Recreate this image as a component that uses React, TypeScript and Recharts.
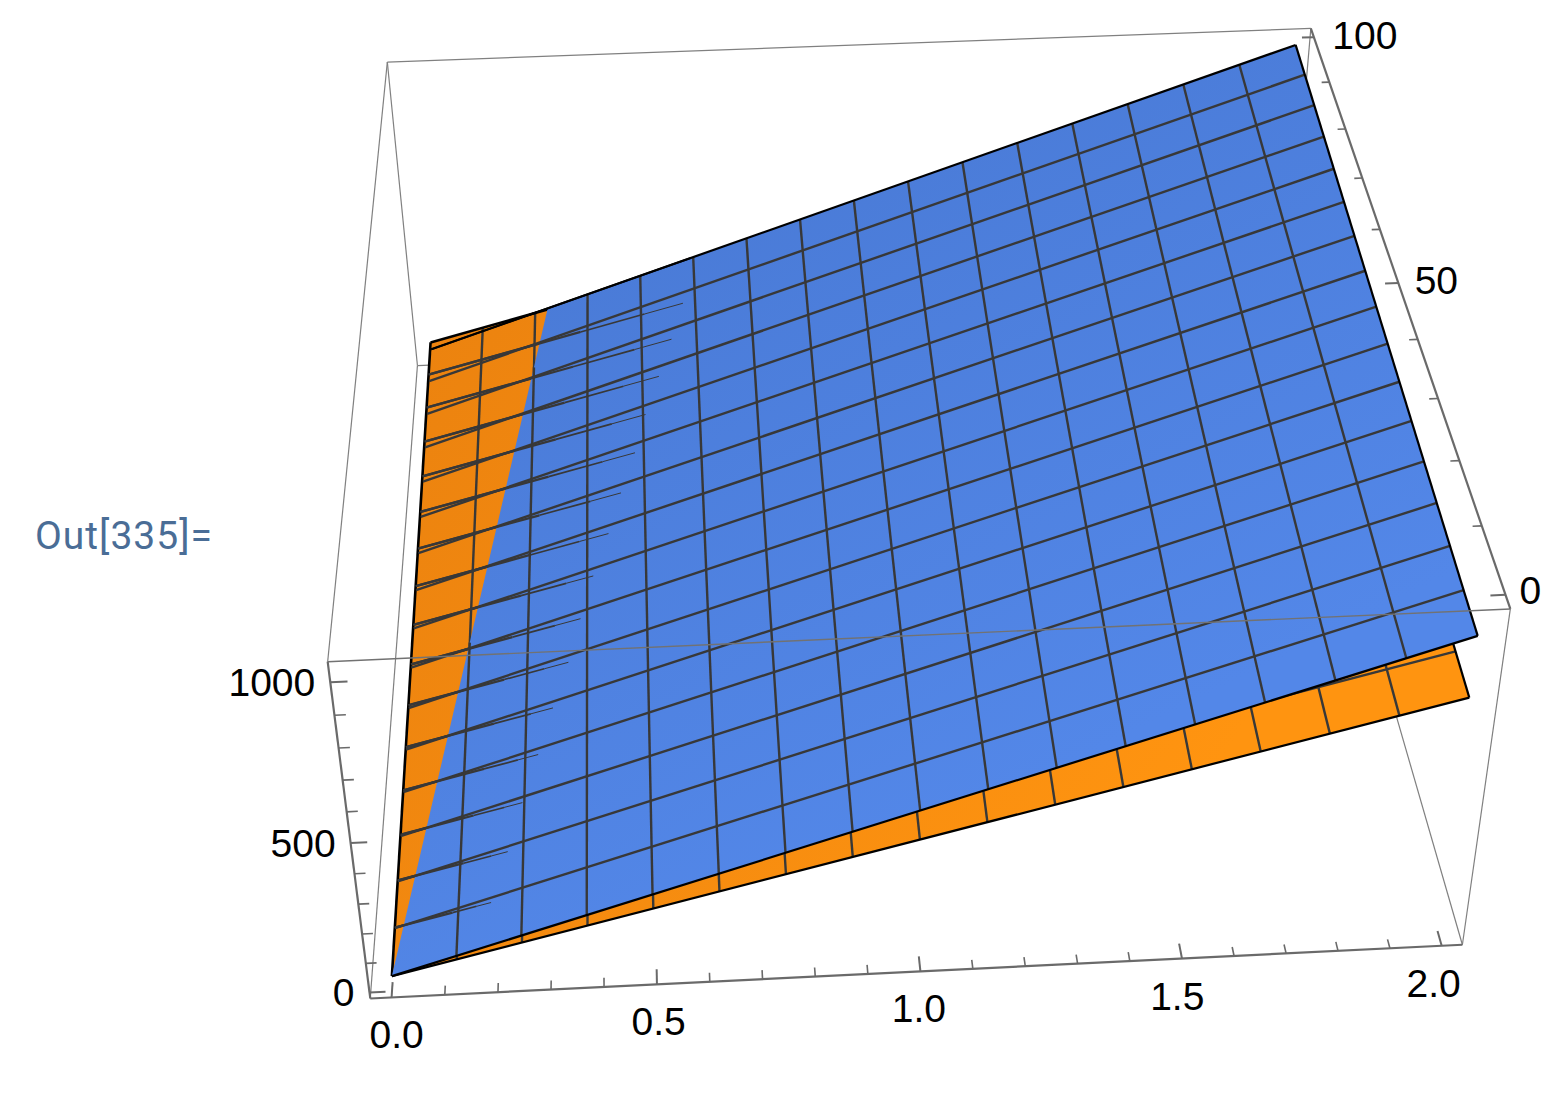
import React from "react";
import { ScatterChart, Scatter, XAxis, YAxis } from "recharts";

const WIDTH = 1564;
const HEIGHT = 1108;

// plot range of the 3D box (2% padding round the data)
const xRange = [-0.04, 2.04];
const yRange = [-2, 102];
const zRange = [-21, 1061];

// camera calibration: box corner (0/1 per axis) -> where it lands in the picture
const calibCube = [
  [0, 0, 0], [1, 0, 0], [0, 0, 1], [1, 0, 1],
  [0, 1, 0], [1, 1, 0], [0, 1, 1], [1, 1, 1],
];
const calibPx = [
  [371, 999], [1462.3, 945.7], [327.3, 660], [1510, 609],
  [417.7, 366.7], [1284, 328], [386.7, 61.7], [1312, 30],
];

// mesh positions
const meshX = [0.125, 0.25, 0.375, 0.5, 0.625, 0.75, 0.875, 1, 1.125, 1.25, 1.375, 1.5, 1.625, 1.75, 1.875];
const meshY = [6.25, 12.5, 18.75, 25, 31.25, 37.5, 43.75, 50, 56.25, 62.5, 68.75, 75, 81.25, 87.5, 93.75];

// z at corners (0,0) (2,0) (0,100) (2,100)
const orangeCornerZ = [0, 750, 100, 850];
const blueCornerZ = [0, 940, 74, 1037];

// where the two surfaces cross along y=100
const crossX = 0.28;

// how far each orange mesh line pokes through the blue surface
const spikeTipX = [0.188, 0.218, 0.245, 0.275, 0.304, 0.335, 0.36, 0.387, 0.42, 0.448, 0.48, 0.505, 0.537, 0.568, 0.597];
const topSpikeTipX = 0.62;

// ticks
const xMajor = [0, 0.5, 1, 1.5, 2];
const xMinor = [0.1, 0.2, 0.3, 0.4, 0.6, 0.7, 0.8, 0.9, 1.1, 1.2, 1.3, 1.4, 1.6, 1.7, 1.8, 1.9];
const yMajor = [0, 50, 100];
const yMinor = [10, 20, 30, 40, 60, 70, 80, 90];
const zMajor = [0, 500, 1000];
const zMinor = [100, 200, 300, 400, 600, 700, 800, 900];
const xTickLabels = ["0.0", "0.5", "1.0", "1.5", "2.0"];
const yTickLabels = ["0", "50", "100"];
const zTickLabels = ["0", "500", "1000"];

function solveCamera() {
  const rows: number[][] = [];
  const rhs: number[] = [];
  calibCube.forEach(([u, v, w], i) => {
    const px = calibPx[i][0] / 1000;
    const py = calibPx[i][1] / 1000;
    rows.push([u, v, w, 1, 0, 0, 0, 0, -px * u, -px * v, -px * w]);
    rhs.push(px);
    rows.push([0, 0, 0, 0, u, v, w, 1, -py * u, -py * v, -py * w]);
    rhs.push(py);
  });
  const n = 11;
  const m: number[][] = [];
  for (let i = 0; i < n; i++) {
    const r: number[] = [];
    for (let j = 0; j < n; j++) {
      let s = 0;
      rows.forEach((row) => (s += row[i] * row[j]));
      r.push(s);
    }
    let b = 0;
    rows.forEach((row, k) => (b += row[i] * rhs[k]));
    r.push(b);
    m.push(r);
  }
  for (let i = 0; i < n; i++) {
    let best = i;
    for (let k = i + 1; k < n; k++) if (Math.abs(m[k][i]) > Math.abs(m[best][i])) best = k;
    [m[i], m[best]] = [m[best], m[i]];
    for (let k = 0; k < n; k++) {
      if (k === i) continue;
      const f = m[k][i] / m[i][i];
      for (let j = i; j <= n; j++) m[k][j] -= f * m[i][j];
    }
  }
  return m.map((r, i) => r[n] / r[i]);
}

const cam = solveCamera();

function project(x: number, y: number, z: number) {
  const u = (x - xRange[0]) / (xRange[1] - xRange[0]);
  const v = (y - yRange[0]) / (yRange[1] - yRange[0]);
  const w = (z - zRange[0]) / (zRange[1] - zRange[0]);
  const d = cam[8] * u + cam[9] * v + cam[10] * w + 1;
  return {
    px: (1000 * (cam[0] * u + cam[1] * v + cam[2] * w + cam[3])) / d,
    py: (1000 * (cam[4] * u + cam[5] * v + cam[6] * w + cam[7])) / d,
  };
}

function surfaceZ(c: number[], x: number, y: number) {
  const a = x / 2;
  const b = y / 100;
  return (1 - a) * (1 - b) * c[0] + a * (1 - b) * c[1] + (1 - a) * b * c[2] + a * b * c[3];
}

const onSurface = (c: number[], x: number, y: number) => project(x, y, surfaceZ(c, x, y));

const NoDot = () => <g />;

let seq = 0;
function path(points: { px: number; py: number }[], stroke: string, strokeWidth: number) {
  return (
    <Scatter
      key={`p${seq++}`}
      data={points}
      shape={NoDot}
      line={{ stroke, strokeWidth, fill: "none" }}
      isAnimationActive={false}
      legendType="none"
    />
  );
}

function polygon(points: { px: number; py: number }[], fill: string) {
  return (
    <Scatter
      key={`p${seq++}`}
      data={points}
      shape={NoDot}
      line={{ stroke: "none", fill }}
      isAnimationActive={false}
      legendType="none"
    />
  );
}

function label(at: { px: number; py: number }, text: string, dx: number, dy: number, anchor = "middle") {
  return (
    <Scatter
      key={`p${seq++}`}
      data={[at]}
      isAnimationActive={false}
      legendType="none"
      shape={(p: any) => (
        <text
          x={p.cx + dx}
          y={p.cy + dy}
          textAnchor={anchor}
          fontFamily="'Liberation Sans', Arial, sans-serif"
          fontSize={39}
          fill="#000"
        >
          {text}
        </text>
      )}
    />
  );
}

const MESH = "#383838";
const EDGE = "#000";
const BOX = "#808080";
const AXIS = "#6a6a6a";

const corner = (i: number, j: number, k: number) =>
  project(xRange[i], yRange[j], zRange[k]);

function boxBehind() {
  return [
    path([corner(0, 0, 0), corner(0, 1, 0)], BOX, 1.2),
    path([corner(1, 0, 0), corner(1, 1, 0)], BOX, 1.2),
    path([corner(0, 1, 1), corner(0, 1, 0)], BOX, 1.2),
    path([corner(1, 1, 1), corner(1, 1, 0)], BOX, 1.2),
    path([corner(0, 1, 0), corner(1, 1, 0)], BOX, 1.2),
  ];
}

function boxFront() {
  return [
    path([corner(0, 0, 1), corner(1, 0, 1)], "#727272", 1.4),
    path([corner(0, 0, 1), corner(0, 1, 1)], BOX, 1.2),
    path([corner(0, 1, 1), corner(1, 1, 1)], BOX, 1.2),
    path([corner(1, 0, 0), corner(1, 0, 1)], BOX, 1.2),
    path([corner(0, 0, 0), corner(1, 0, 0)], AXIS, 2.2),
    path([corner(0, 0, 0), corner(0, 0, 1)], AXIS, 2.2),
    path([corner(1, 0, 1), corner(1, 1, 1)], AXIS, 2.2),
  ];
}

function ticks() {
  const [x0, x1] = xRange;
  const y0 = yRange[0];
  const [z0, z1] = zRange;
  const out: React.ReactNode[] = [];
  xMajor.forEach((x) => out.push(path([project(x, y0, z0), project(x, y0 + 2, z0)], AXIS, 2)));
  xMinor.forEach((x) => out.push(path([project(x, y0, z0), project(x, y0 + 1.2, z0)], AXIS, 1.6)));
  zMajor.forEach((z) => out.push(path([project(x0, y0, z), project(x0 + 0.03, y0, z)], AXIS, 2)));
  zMinor.forEach((z) => out.push(path([project(x0, y0, z), project(x0 + 0.02, y0, z)], AXIS, 1.6)));
  yMajor.forEach((y) => out.push(path([project(x1, y, z1), project(x1 - 0.027, y, z1)], AXIS, 2)));
  yMinor.forEach((y) => out.push(path([project(x1, y, z1), project(x1 - 0.017, y, z1)], AXIS, 1.6)));
  xMajor.forEach((x, i) => out.push(label(project(x, y0, z0), xTickLabels[i], 5 - 6.5 * x, 51)));
  yMajor.forEach((y, i) => out.push(label(project(x1, y, z1), yTickLabels[i], 25 + 0.26 * y, 9 + 0.03 * y)));
  zMajor.forEach((z, i) => out.push(label(project(x0, y0, z), zTickLabels[i], -15, 14, "end")));
  return out;
}

function orangeSurface() {
  const c = orangeCornerZ;
  const out: React.ReactNode[] = [
    polygon(
      [onSurface(c, 0, 0), onSurface(c, 2, 0), onSurface(c, 2, 100), onSurface(c, 0, 100)],
      "url(#orangeShade)"
    ),
  ];
  meshX.forEach((x) => out.push(path([onSurface(c, x, 0), onSurface(c, x, 100)], MESH, 2.4)));
  meshY.forEach((y) => out.push(path([onSurface(c, 0, y), onSurface(c, 2, y)], MESH, 2.4)));
  out.push(path([onSurface(c, 0, 0), onSurface(c, 2, 0)], EDGE, 2.2));
  out.push(path([onSurface(c, 2, 0), onSurface(c, 2, 100)], EDGE, 2.2));
  out.push(path([onSurface(c, 0, 100), onSurface(c, 2, 100)], EDGE, 2.6));
  out.push(path([onSurface(c, 0, 0), onSurface(c, 0, 100)], EDGE, 2.6));
  return out;
}

function blueSurface() {
  const c = blueCornerZ;
  const o = orangeCornerZ;
  const out: React.ReactNode[] = [
    polygon(
      [onSurface(c, 0, 0), onSurface(c, crossX, 100), onSurface(c, 2, 100), onSurface(c, 2, 0)],
      "url(#blueShade)"
    ),
  ];
  meshX.forEach((x) => {
    const top = x < crossX ? (100 * x) / crossX : 100;
    out.push(path([onSurface(c, x, 0), onSurface(c, x, top)], MESH, 2.4));
  });
  meshY.forEach((y) => out.push(path([onSurface(c, 0, y), onSurface(c, 2, y)], MESH, 2.4)));
  // orange mesh lines showing through, thinning out towards the tip
  meshY.forEach((y, i) => {
    const tip = spikeTipX[i];
    out.push(path([onSurface(o, 0, y), onSurface(o, tip * 0.6, y)], MESH, 2.3));
    out.push(path([onSurface(o, tip * 0.6, y), onSurface(o, tip * 0.85, y)], MESH, 1.7));
    out.push(path([onSurface(o, tip * 0.85, y), onSurface(o, tip, y)], MESH, 1));
  });
  out.push(path([onSurface(c, 0, 100), onSurface(c, topSpikeTipX, 100)], EDGE, 1.8));
  out.push(path([onSurface(c, 0, 0), onSurface(c, 2, 0)], EDGE, 2.2));
  out.push(path([onSurface(c, 2, 0), onSurface(c, 2, 100)], EDGE, 2.2));
  out.push(path([onSurface(c, 0, 100), onSurface(c, 2, 100)], EDGE, 2.2));
  return out;
}

export default function App() {
  seq = 0;
  return (
    <div style={{ position: "absolute", left: 0, top: 0, width: WIDTH, height: HEIGHT, background: "#fff" }}>
      <ScatterChart width={WIDTH} height={HEIGHT} margin={{ top: 0, right: 0, bottom: 0, left: 0 }}>
        <defs>
          <linearGradient id="blueShade" gradientUnits="userSpaceOnUse" x1="800" y1="150" x2="1100" y2="750">
            <stop offset="0" stopColor="#4a7bd7" />
            <stop offset="1" stopColor="#5387e8" />
          </linearGradient>
          <linearGradient id="orangeShade" gradientUnits="userSpaceOnUse" x1="430" y1="340" x2="1200" y2="800">
            <stop offset="0" stopColor="#ec830f" />
            <stop offset="1" stopColor="#ff9410" />
          </linearGradient>
        </defs>
        <XAxis type="number" dataKey="px" domain={[0, WIDTH]} hide />
        <YAxis type="number" dataKey="py" domain={[0, HEIGHT]} reversed hide />
        {boxBehind()}
        {orangeSurface()}
        {blueSurface()}
        {boxFront()}
        {ticks()}
      </ScatterChart>
      <div
        style={{
          position: "absolute",
          left: 35,
          top: 513,
          fontFamily: "Roboto, sans-serif",
          fontSize: 39,
          letterSpacing: 1,
          color: "#4a6d96",
          lineHeight: "46px",
          whiteSpace: "nowrap",
        }}
      >
        Out[335]=
      </div>
    </div>
  );
}
